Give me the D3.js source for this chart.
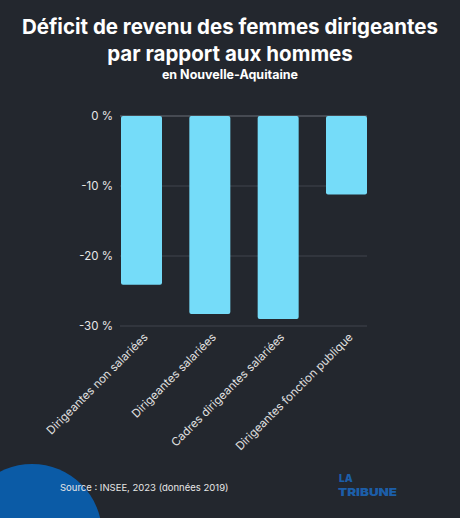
<!doctype html>
<html lang="fr">
<head>
<meta charset="utf-8">
<title>Déficit de revenu des femmes dirigeantes</title>
<script src="https://cdnjs.cloudflare.com/ajax/libs/d3/7.8.5/d3.min.js"></script>
<style>
  body { margin: 0; background: #23272e; }
  svg { display: block; font-family: "Inter", "Open Sans", sans-serif; }
</style>
</head>
<body>
<svg width="460" height="518" id="svg"></svg>
<script>
  var categories = ['Dirigeantes non salariées', 'Dirigeantes salariées', 'Cadres dirigeantes salariées', 'Dirigeantes fonction publique'];
  var values = [-24.1, -28.3, -29.0, -11.2];
  var ticks = [0, -10, -20, -30];

  var svg = d3.select('#svg');
  var width = 460, height = 518;

  svg.append('rect').attr('width', width).attr('height', height).attr('fill', '#23272e');

  // titles
  svg.append('text').attr('x', 230).attr('y', 34).attr('text-anchor', 'middle')
    .attr('fill', '#fff').attr('font-size', 20.5).attr('font-weight', 700)
    .text('Déficit de revenu des femmes dirigeantes');
  svg.append('text').attr('x', 230).attr('y', 61).attr('text-anchor', 'middle')
    .attr('fill', '#fff').attr('font-size', 20.5).attr('font-weight', 700)
    .text('par rapport aux hommes');
  svg.append('text').attr('x', 230).attr('y', 79).attr('text-anchor', 'middle')
    .attr('fill', '#fff').attr('font-size', 12.5).attr('font-weight', 700)
    .text('en Nouvelle-Aquitaine');

  var x = d3.scaleBand().domain(categories).range([121, 367]).paddingInner(0.4).paddingOuter(0);
  var y = d3.scaleLinear().domain([0, -30]).range([116, 326]);

  var g = svg.append('g');

  g.selectAll('line.grid').data(ticks).enter().append('line')
    .attr('class', 'grid')
    .attr('x1', 120).attr('x2', 367)
    .attr('y1', function(d) { return y(d); }).attr('y2', function(d) { return y(d); })
    .attr('stroke', function(d) { return d === 0 ? '#6a6f77' : '#40454d'; })
    .attr('stroke-width', 1);

  var yAxis = d3.axisLeft(y).tickValues(ticks).tickSize(0).tickPadding(0)
    .tickFormat(function(d) { return (d === 0 ? '0' : d) + ' %'; });
  var ya = g.append('g').attr('transform', 'translate(113,0)').call(yAxis);
  ya.select('.domain').remove();
  ya.selectAll('text').attr('fill', '#e6e6e6').attr('font-size', 11.5)
    .attr('font-family', '"Inter", "Open Sans", sans-serif');

  g.selectAll('rect.bar').data(values).enter().append('rect')
    .attr('class', 'bar')
    .attr('x', function(d, i) { return x(categories[i]); })
    .attr('y', y(0))
    .attr('width', x.bandwidth())
    .attr('height', function(d) { return y(d) - y(0); })
    .attr('rx', 2)
    .attr('fill', '#75dcf9');

  g.selectAll('text.cat').data(categories).enter().append('text')
    .attr('class', 'cat')
    .attr('text-anchor', 'end')
    .attr('transform', function(d) {
      return 'translate(' + (x(d) + x.bandwidth() / 2 + 7) + ',338) rotate(-45)';
    })
    .attr('fill', '#e0e0e0').attr('font-size', 11.5)
    .text(function(d) { return d; });

  // decorative circle
  svg.append('circle').attr('cx', 32).attr('cy', 534).attr('r', 70).attr('fill', '#0b5ba6');

  svg.append('text').attr('x', 60).attr('y', 491)
    .attr('fill', '#e6e6e6').attr('font-size', 9.5)
    .text('Source : INSEE, 2023 (données 2019)');

  // logo
  svg.append('text').attr('x', 339).attr('y', 482)
    .attr('fill', '#1c5ea8').attr('font-size', 10).attr('font-weight', 900)
    .text('LA');
  svg.append('text').attr('x', 338).attr('y', 496)
    .attr('fill', '#1c5ea8').attr('font-size', 11).attr('font-weight', 900)
    .attr('textLength', 59).attr('lengthAdjust', 'spacingAndGlyphs')
    .text('TRIBUNE');
</script>
</body>
</html>
